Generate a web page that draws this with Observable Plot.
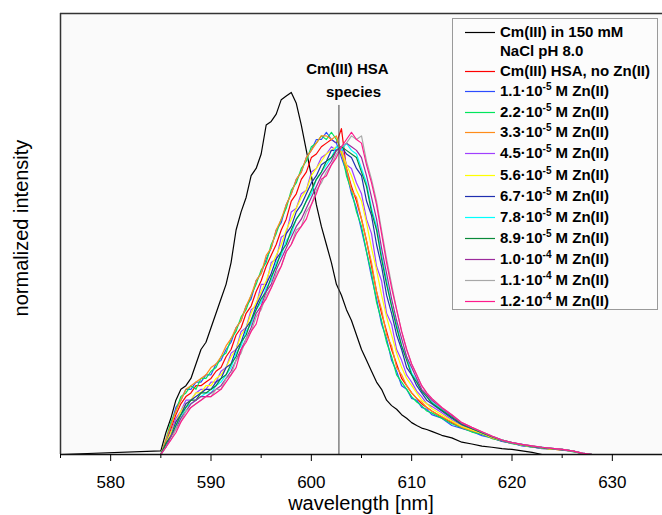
<!DOCTYPE html>
<html><head><meta charset="utf-8">
<script src="https://cdn.jsdelivr.net/npm/d3@7"></script>
<script src="https://cdn.jsdelivr.net/npm/@observablehq/plot@0.6"></script>
<style>body{margin:0;background:#fff}#chart{position:relative;width:662px;height:515px}</style>
</head><body><div id="chart"></div>
<script>
// wavelength grid (nm)
const wl = [575,
585,585.5,586,586.5,587,587.5,588,588.5,589,589.5,590,590.5,591,591.5,592,592.5,593,593.5,594,594.5,
595,595.5,596,596.5,597,597.5,598,598.5,599,599.5,600,600.5,601,601.5,602,602.5,603,603.5,604,604.5,
605,605.5,606,606.5,607,607.5,608,608.5,609,609.5,610,610.5,611,611.5,612,
613,614,615,616,617,618,619,620,621,622,623,624,625,626,627,628,635];

// normalized intensity (%), one array per spectrum
const cmNaCl = [0,
1,6,10,15,18,19,21,25,29,31,35,39,43,47,53,62,67,71,77,79,
83,91,92,94,98,99,100,97,91,84,77,69,63,58,53,47,44,40,37,33,
29,26,23,20,18,15,13.5,12.5,11,10,8.8,8.0,7.3,6.9,6.4,
5.3,4.6,3.4,2.9,2.3,2.0,1.6,1.4,1.0,0.6,0,0,0,0,0,0,0];
const hsaNoZn = [0,
0,3,7,11,14,16,17,19,19,20,21,23,24,27,29,33,35,39,41,45,
48,52,55,58,62,65,70,72,76,78,82,83,85,86,87,86,90,79,74,70,
65,59,52,45,39,34,29,25,21,19,17,15.5,14,13,12,
10.3,8.8,7.3,6.5,5.6,4.6,3.7,3.1,2.5,2.1,1.7,1.5,1.3,0.9,0.3,0,0];
const zn11e5 = [0,
0,3,8,13,15,18,18,20,20,22,22,25,26,29,31,35,37,41,43,48,
50,54,57,62,64,69,72,76,78,82,84,87,87,89,87,86,82,78,72,68,
62,56,49,43,36,32,26,23,19,18,15.5,15,13,12.5,11,
10,8,7.2,6.4,5.2,4.6,3.6,3.1,2.4,2.1,1.6,1.6,1.2,0.9,0.2,0,0];
const zn22e5 = [0,
0,4,9,12,16,17,19,18,21,21,23,24,27,28,32,34,38,40,44,47,
51,53,58,61,65,68,73,75,79,81,85,86,88,87,89,87,84,77,73,67,
63,56,50,42,37,31,27,22,20,18,16,14.5,13.5,12,11.5,
10,8.5,7.4,6.2,5.6,4.4,3.8,3.0,2.6,2.0,1.8,1.4,1.4,0.8,0.3,0,0];
const zn33e5 = [0,
0,4,8,12,15,18,19,20,21,22,24,25,27,30,32,35,37,41,44,48,
50,55,57,62,65,69,72,76,78,82,84,86,88,88,87,88,83,79,73,71,
65,59,53,45,40,33,30,24,22,19,17,15.5,14.5,13,12,
10.5,9,7.5,6.6,5.8,4.6,3.9,3.2,2.7,2.2,1.9,1.5,1.3,1.0,0.3,0,0];
const zn45e5 = [0,
0,3,6,10,12,15,15,17,18,18,20,20,23,24,28,29,34,35,40,41,
47,47,53,54,60,61,67,68,72,73,78,79,82,83,85,84,85,80,79,75,
72,65,61,52,48,39,36,29,26,22,20,17.5,16,14,13.3,
11.5,9.5,8.0,6.9,5.8,4.9,3.9,3.2,2.7,2.2,1.9,1.6,1.3,0.9,0.3,0,0];
const zn56e5 = [0,
0,3,6,9,12,14,15,17,17,19,19,21,22,24,27,29,33,35,39,42,
45,48,52,55,58,62,65,68,71,73,77,79,81,83,84,85,84,80,77,73,
70,64,57,51,44,38,33,28,24,21,19,17,15,14,12.7,
11,9.3,7.8,6.8,5.8,4.8,3.9,3.2,2.6,2.2,1.8,1.5,1.3,0.9,0.3,0,0];
const zn67e5 = [0,
0,3,5,9,11,14,15,16,17,18,18,20,21,24,25,29,31,35,37,41,
44,47,50,54,56,61,63,67,69,72,75,77,80,81,84,84,85,83,82,79,
77,70,66,58,52,44,39,33,29,24,22,19,17,15,14,
12,10,8.2,7.1,6.0,4.9,3.9,3.2,2.7,2.2,1.9,1.6,1.3,1.0,0.3,0,0];
const zn78e5 = [0,
0,2,5,8,10,13,14,15,16,17,17,19,20,22,24,28,30,34,36,40,
42,46,48,53,55,59,61,65,67,70,72,76,78,80,82,85,84,86,84,83,
79,75,68,63,55,48,41,36,30,27,22.5,20.5,17.5,16,14.5,
12.5,10.5,8.5,7.3,6.1,5.0,4.0,3.3,2.8,2.3,2.0,1.7,1.4,1.0,0.4,0,0];
const zn89e5 = [0,
0,3,5,8,11,13,15,15,17,17,18,19,21,22,25,27,31,33,37,40,
43,45,49,52,56,58,62,65,67,70,73,76,78,81,82,84,85,84,83,82,
78,74,67,62,54,47,41,35,30,26,22,20,17.5,16,14.2,
12.2,10.3,8.4,7.2,6.0,4.9,4.0,3.3,2.7,2.3,1.9,1.6,1.4,1.0,0.3,0,0];
const zn10e4 = [0,
0,2,5,7,10,12,14,15,16,16,17,18,19,21,23,26,29,32,35,39,
41,45,47,51,54,57,60,63,65,68,71,74,77,79,81,84,85,86,85,84,
82,77,71,65,57,50,43,37,32,27,24,21,18,16.5,15,
12.8,10.7,8.6,7.4,6.2,5.0,4.0,3.3,2.8,2.3,2.0,1.7,1.4,1.0,0.4,0,0];
const zn11e4 = [0,
0,2,4,7,9,12,13,14,15,16,16,18,18,21,22,26,28,32,34,38,
40,44,46,50,52,56,58,62,63,67,69,73,75,78,80,83,85,86,88,87,
88,81,76,70,62,54,47,40,34,29,25,22,19,17,15.5,
13,11,8.8,7.5,6.3,5.1,4.0,3.3,2.8,2.4,2.0,1.7,1.4,1.0,0.4,0,0];
const zn12e4 = [0,
0,2,4,6,9,11,13,14,15,16,16,17,18,20,22,24,29,31,34,36,
41,43,46,49,52,56,58,61,63,65,69,72,76,77,80,82,85,87,89,87,
86,80,75,69,61,53,46,40,34,29,25,22,19,17,15.5,
13,11,8.8,7.5,6.3,5.1,4.0,3.3,2.8,2.4,2.0,1.7,1.4,1.0,0.4,0,0];

const seriesNames = ["Cm(III) in 150 mM NaCl pH 8.0","Cm(III) HSA, no Zn(II)",
  "1.1e-5","2.2e-5","3.3e-5","4.5e-5","5.6e-5","6.7e-5","7.8e-5","8.9e-5","1.0e-4","1.1e-4","1.2e-4"];
const seriesValues = [cmNaCl,hsaNoZn,zn11e5,zn22e5,zn33e5,zn45e5,zn56e5,zn67e5,zn78e5,zn89e5,zn10e4,zn11e4,zn12e4];
const seriesColors = ["#000000","#ff0000","#2b4cff","#00e65c","#ff8c1a","#a040ff","#ffff00",
  "#1f2fb0","#00ffff","#0a8a3a","#9c2a9c","#a8a8a8","#ff1a8c"];
const znMantissa = ["1.1","2.2","3.3","4.5","5.6","6.7","7.8","8.9","1.0","1.1","1.2"];
const znExponent = ["-5","-5","-5","-5","-5","-5","-5","-5","-4","-4","-4"];
const majorTicks = [580,590,600,610,620,630];
const minorTicks = [575,585,595,605,615,625,635];
const hsaLine = [602.75];

const data = [];
seriesValues.forEach((arr,i)=>arr.forEach((v,j)=>data.push({wl:wl[j], v, s:seriesNames[i]})));

const FONT = "'Liberation Sans', Arial, sans-serif";
const chart = Plot.plot({
  width:662, height:515, marginLeft:60, marginRight:0, marginTop:13, marginBottom:61,
  style:{fontFamily:FONT, background:"#fff", color:"#000"},
  x:{domain:[575,635], label:null},
  y:{domain:[0,121.8], axis:null},
  color:{domain:seriesNames, range:seriesColors},
  marks:[
    Plot.frame({fill:"#fafafa", stroke:"none"}),
    Plot.line(data,{x:"wl", y:"v", z:"s", stroke:"s", strokeWidth:1.2}),
    Plot.ruleX(hsaLine,{y1:0, y2:96.4, stroke:"#444", strokeWidth:1}),
    Plot.text(["Cm(III) HSA"],{x:603.6, y:106.3, text:d=>d, fontWeight:"bold", fontSize:15}),
    Plot.text(["species"],{x:604.2, y:100.2, text:d=>d, fontWeight:"bold", fontSize:15}),
    Plot.ruleX([575],{stroke:"#333", strokeWidth:1.5}),
    Plot.ruleY([121.8],{stroke:"#333", strokeWidth:1.5}),
    Plot.ruleY([0],{stroke:"#111", strokeWidth:1.5}),
    Plot.axisX({ticks:majorTicks, tickSize:7, tickPadding:14, fontSize:17, label:null}),
    Plot.axisX({ticks:minorTicks, tickSize:4, tickFormat:()=>"", label:null})
  ]
});
document.getElementById("chart").appendChild(chart);

const svg = d3.select(chart);
svg.append("text").attr("x",361).attr("y",505).attr("text-anchor","middle").attr("dominant-baseline","middle")
  .attr("font-size",20).attr("font-family",FONT).text("wavelength [nm]");
svg.append("text").attr("transform","translate(23,228) rotate(-90)").attr("text-anchor","middle").attr("dominant-baseline","middle")
  .attr("font-size",20).attr("font-family",FONT).text("normalized intensity");

const lg = svg.append("g").attr("font-family",FONT).attr("font-weight","bold").attr("font-size",15).attr("text-anchor","start");
lg.append("rect").attr("x",452.5).attr("y",18.5).attr("width",205).attr("height",291).attr("fill","#fcfcfc").attr("stroke","#9a9a9a");
const rowY = [32,71,91,112,132,153,175,196,217,238,259,280,301];
rowY.forEach((y,i)=>{
  lg.append("line").attr("x1",465).attr("x2",495).attr("y1",y+0.5).attr("y2",y+0.5).attr("stroke",seriesColors[i]).attr("stroke-width",1.2);
  const t = lg.append("text").attr("x",500).attr("y",y).attr("dy","0.36em").attr("text-anchor","start");
  if (i===0) { t.text("Cm(III) in 150 mM");
    lg.append("text").attr("x",500).attr("y",51).attr("dy","0.36em").attr("text-anchor","start").text("NaCl pH 8.0"); }
  else if (i===1) t.text("Cm(III) HSA, no Zn(II)");
  else {
    t.append("tspan").text(znMantissa[i-2]+"·10");
    t.append("tspan").attr("font-size",10).attr("dy",-6).text(znExponent[i-2]);
    t.append("tspan").attr("dy",6).text(" M Zn(II)");
  }
});
</script></body></html>
